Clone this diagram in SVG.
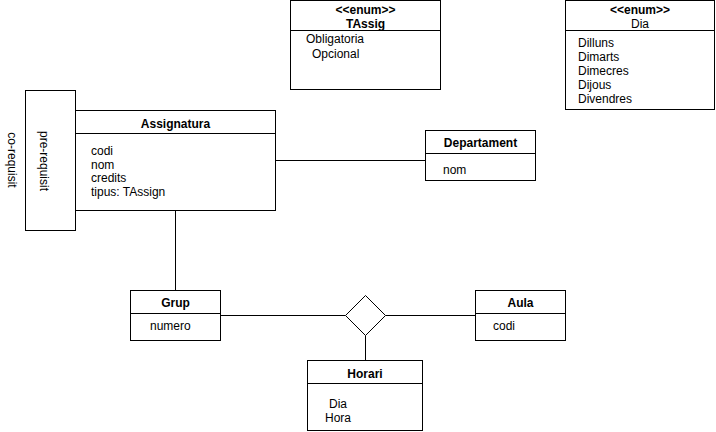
<svg xmlns="http://www.w3.org/2000/svg" width="716" height="432" viewBox="0 0 716 432">
<style>
  .box { fill: #ffffff; stroke: #000000; stroke-width: 1; }
  .ln { fill: none; stroke: #000000; stroke-width: 1; }
  text { font-family: "Liberation Sans", Arial, sans-serif; font-size: 12px; fill: #000000; }
  .hd { font-weight: bold; text-anchor: middle; }
  .hn { text-anchor: middle; }
  .rt { text-anchor: middle; }
</style>
<rect width="716" height="432" fill="#ffffff"/>

<g id="connectors">
  <path class="ln" d="M275.5,160.5 H425.5"/>
  <path class="ln" d="M175.5,210.5 V290.5"/>
  <path class="ln" d="M220.5,315.5 H345.5"/>
  <path class="ln" d="M385.5,315.5 H475.5"/>
  <path class="ln" d="M365.5,335.5 V360.5"/>
  <path class="ln" d="M75.5,136.5 H55.5 V179.5 H75.5"/>
</g>

<g id="corequisit">
  <text class="rt" transform="translate(8,160) rotate(90)">co-requisit</text>
</g>

<g id="prerequisit">
  <rect class="box" x="25.5" y="90.5" width="50" height="140"/>
  <text class="rt" transform="translate(40,161) rotate(90)">pre-requisit</text>
</g>

<g id="assignatura">
  <rect class="box" x="75.5" y="110.5" width="200" height="100"/>
  <line class="ln" x1="75.5" y1="133.5" x2="275.5" y2="133.5"/>
  <text class="hd" x="175.5" y="127.5">Assignatura</text>
  <text x="91" y="155">codi</text>
  <text x="91" y="168.5">nom</text>
  <text x="91" y="182">credits</text>
  <text x="91" y="195.5">tipus: TAssign</text>
</g>

<g id="tassig">
  <rect class="box" x="290.5" y="0.5" width="150" height="89"/>
  <line class="ln" x1="290.5" y1="30.5" x2="440.5" y2="30.5"/>
  <text class="hd" x="365.5" y="14">&lt;&lt;enum&gt;&gt;</text>
  <text class="hd" x="365.5" y="28">TAssig</text>
  <text x="306" y="42.5">Obligatoria</text>
  <text x="312" y="57.5">Opcional</text>
</g>

<g id="dia">
  <rect class="box" x="565.5" y="0.5" width="149" height="109"/>
  <line class="ln" x1="565.5" y1="30.5" x2="714.5" y2="30.5"/>
  <text class="hd" x="640" y="14">&lt;&lt;enum&gt;&gt;</text>
  <text class="hn" x="640" y="28">Dia</text>
  <text x="578" y="46.5">Dilluns</text>
  <text x="578" y="60.5">Dimarts</text>
  <text x="578" y="74.5">Dimecres</text>
  <text x="578" y="88.5">Dijous</text>
  <text x="578" y="103">Divendres</text>
</g>

<g id="departament">
  <rect class="box" x="425.5" y="130.5" width="110" height="50"/>
  <line class="ln" x1="425.5" y1="153.5" x2="535.5" y2="153.5"/>
  <text class="hd" x="480.5" y="147">Departament</text>
  <text x="443" y="174">nom</text>
</g>

<g id="grup">
  <rect class="box" x="130.5" y="290.5" width="90" height="50"/>
  <line class="ln" x1="130.5" y1="313.5" x2="220.5" y2="313.5"/>
  <text class="hd" x="175.5" y="307">Grup</text>
  <text x="150" y="329.5">numero</text>
</g>

<g id="relacio">
  <polygon class="box" points="365.5,295.5 385.5,315.5 365.5,335.5 345.5,315.5"/>
</g>

<g id="aula">
  <rect class="box" x="475.5" y="290.5" width="90" height="50"/>
  <line class="ln" x1="475.5" y1="313.5" x2="565.5" y2="313.5"/>
  <text class="hd" x="520.5" y="307">Aula</text>
  <text x="493" y="329.5">codi</text>
</g>

<g id="horari">
  <rect class="box" x="307.5" y="360.5" width="115" height="70"/>
  <line class="ln" x1="307.5" y1="383.5" x2="422.5" y2="383.5"/>
  <text class="hd" x="365" y="377.5">Horari</text>
  <text x="329" y="408">Dia</text>
  <text x="325" y="422">Hora</text>
</g>
</svg>
